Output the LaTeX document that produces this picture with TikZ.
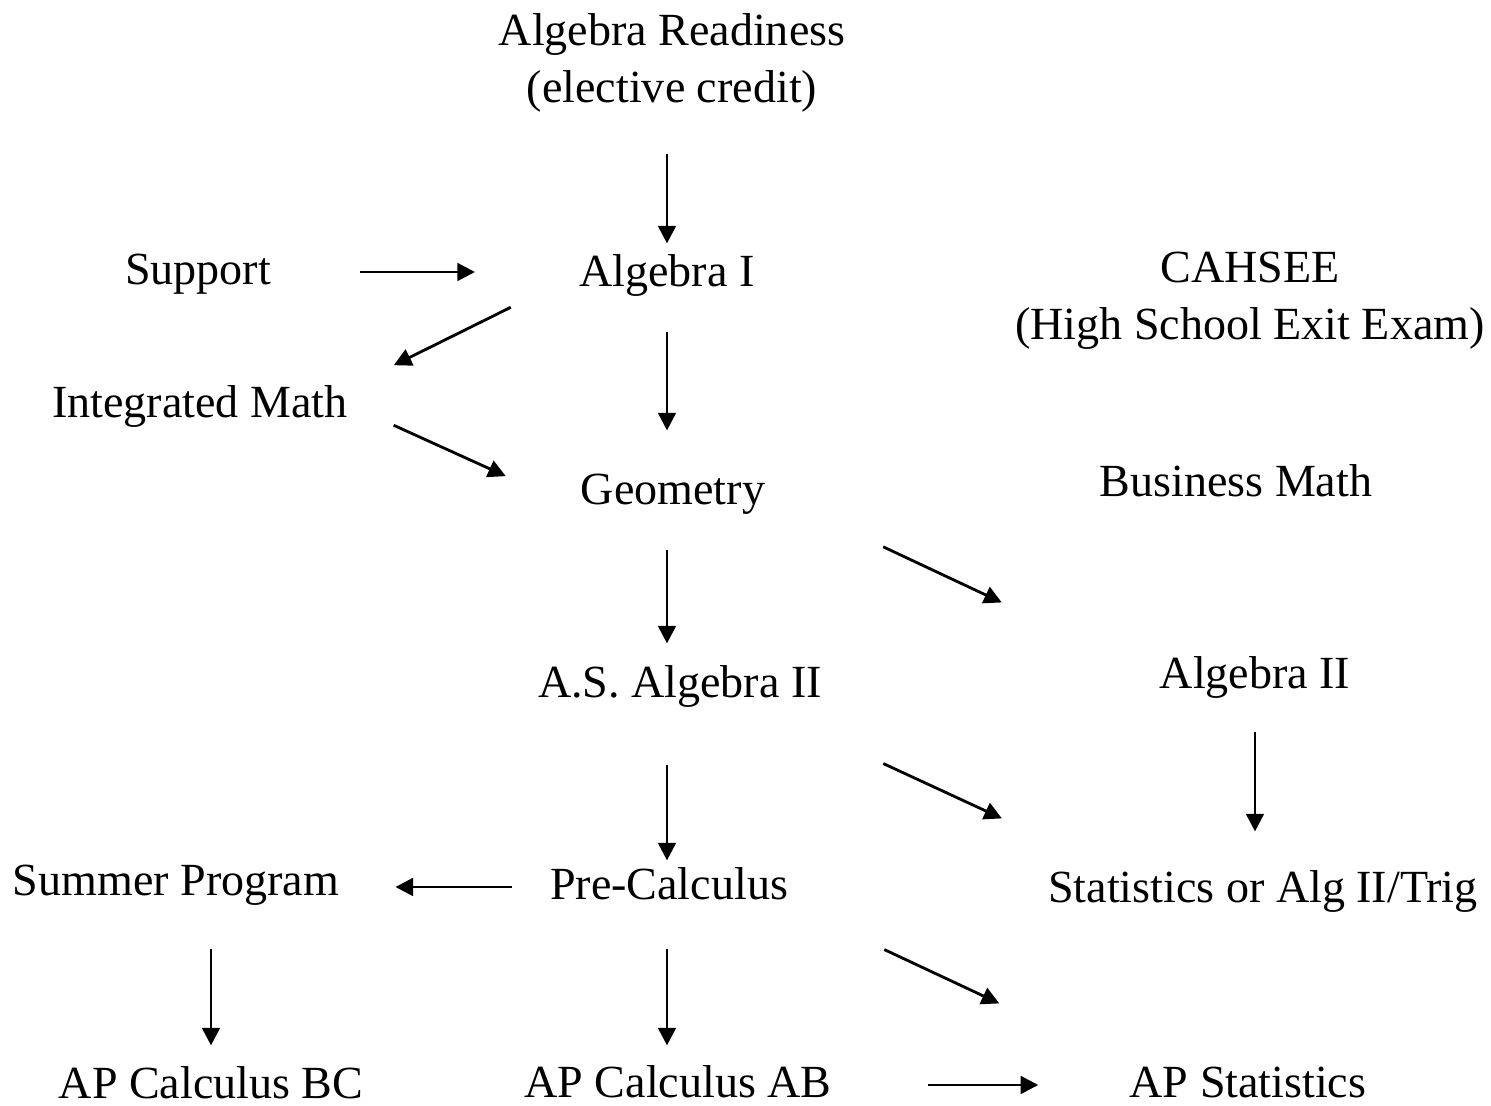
\documentclass[tikz,border=0pt]{standalone}
\usepackage{fontspec}
\setmainfont{Liberation Serif}
\usetikzlibrary{arrows.meta}
\tikzset{course/.style={inner sep=0pt, text height=0.82em, text depth=0.1em},
  twoline/.style={inner sep=0pt, align=center}}
\begin{document}
\begin{tikzpicture}[font=\fontsize{13.1}{16.2}\selectfont, line width=0.8pt, line join=round, >={Triangle[length=5pt,width=5pt]}]
            \useasboundingbox (0,0) rectangle (14.91,-11.06);
            % courses
            \node[twoline] (ready) at (6.72,-0.63) {Algebra Readiness\\(elective credit)};
            \node[course] (sup) at (1.98,-2.72) {Support};
            \node[course] (alg1) at (6.67,-2.74) {Algebra I};
            \node[twoline] (cah) at (12.50,-3.01) {CAHSEE\\(High School Exit Exam)};
            \node[course] (im) at (2.00,-4.05) {Integrated Math};
            \node[course] (geo) at (6.73,-4.92) {Geometry};
            \node[course] (bm) at (12.36,-4.84) {Business Math};
            \node[course] (asa) at (6.80,-6.85) {A.S. Algebra II};
            \node[course] (alg2) at (12.55,-6.76) {Algebra II};
            \node[course] (sum) at (1.76,-8.83) {Summer Program};
            \node[course] (pre) at (6.69,-8.87) {Pre-Calculus};
            \node[course] (stat) at (12.63,-8.90) {Statistics or Alg II/Trig};
            \node[course] (bc) at (2.11,-10.86) {AP Calculus BC};
            \node[course] (ab) at (6.78,-10.85) {AP Calculus AB};
            \node[course] (aps) at (12.48,-10.85) {AP Statistics};
            % arrows
            \draw[->, shorten <=0.40cm, shorten >=0.13cm] (alg1 |- ready.south) -- (alg1.north);
            \draw[->, shorten <=0.88cm, shorten >=1.03cm] (sup.east) -- (sup.east -| alg1.west);
            \draw[->, shorten <=0.75cm, shorten >=0.50cm] (alg1.west) -- (im.north east);
            \draw[->, shorten <=0.40cm, shorten >=0.44cm] (alg1.south) -- (alg1 |- geo.north);
            \draw[->, shorten <=0.49cm, shorten >=0.81cm] (im.east) -- (geo.south west);
            \draw[->, shorten <=0.40cm, shorten >=0.24cm] (alg1 |- geo.south) -- (alg1 |- asa.north);
            \draw[->, shorten <=1.29cm, shorten >=1.73cm] (geo.east) -- (alg2.west);
            \draw[->, shorten <=0.62cm, shorten >=0.09cm] (alg1 |- asa.south) -- (alg1 |- pre.north);
            \draw[->] ([shift={(0.60,-0.61)}]asa.south east) -- ([shift={(-0.45,0.54)}]stat.north west);
            \draw[->, shorten <=0.38cm, shorten >=0.41cm] (alg2.south) -- (alg2.south |- stat.north);
            \draw[->, shorten <=0.37cm, shorten >=0.55cm] (pre.west) -- (pre.west -| sum.east);
            \draw[->, shorten <=0.48cm, shorten >=0.23cm] (bc |- sum.south) -- (bc.north);
            \draw[->, shorten <=0.44cm, shorten >=0.22cm] (alg1 |- pre.south) -- (alg1 |- ab.north);
            \draw[->] ([shift={(0.95,-0.45)}]pre.south east) -- ([shift={(-1.29,0.64)}]aps.north west);
            \draw[->, shorten <=0.95cm, shorten >=0.90cm] (ab.east) -- (ab.east -| aps.west);
        \end{tikzpicture}
\end{document}
